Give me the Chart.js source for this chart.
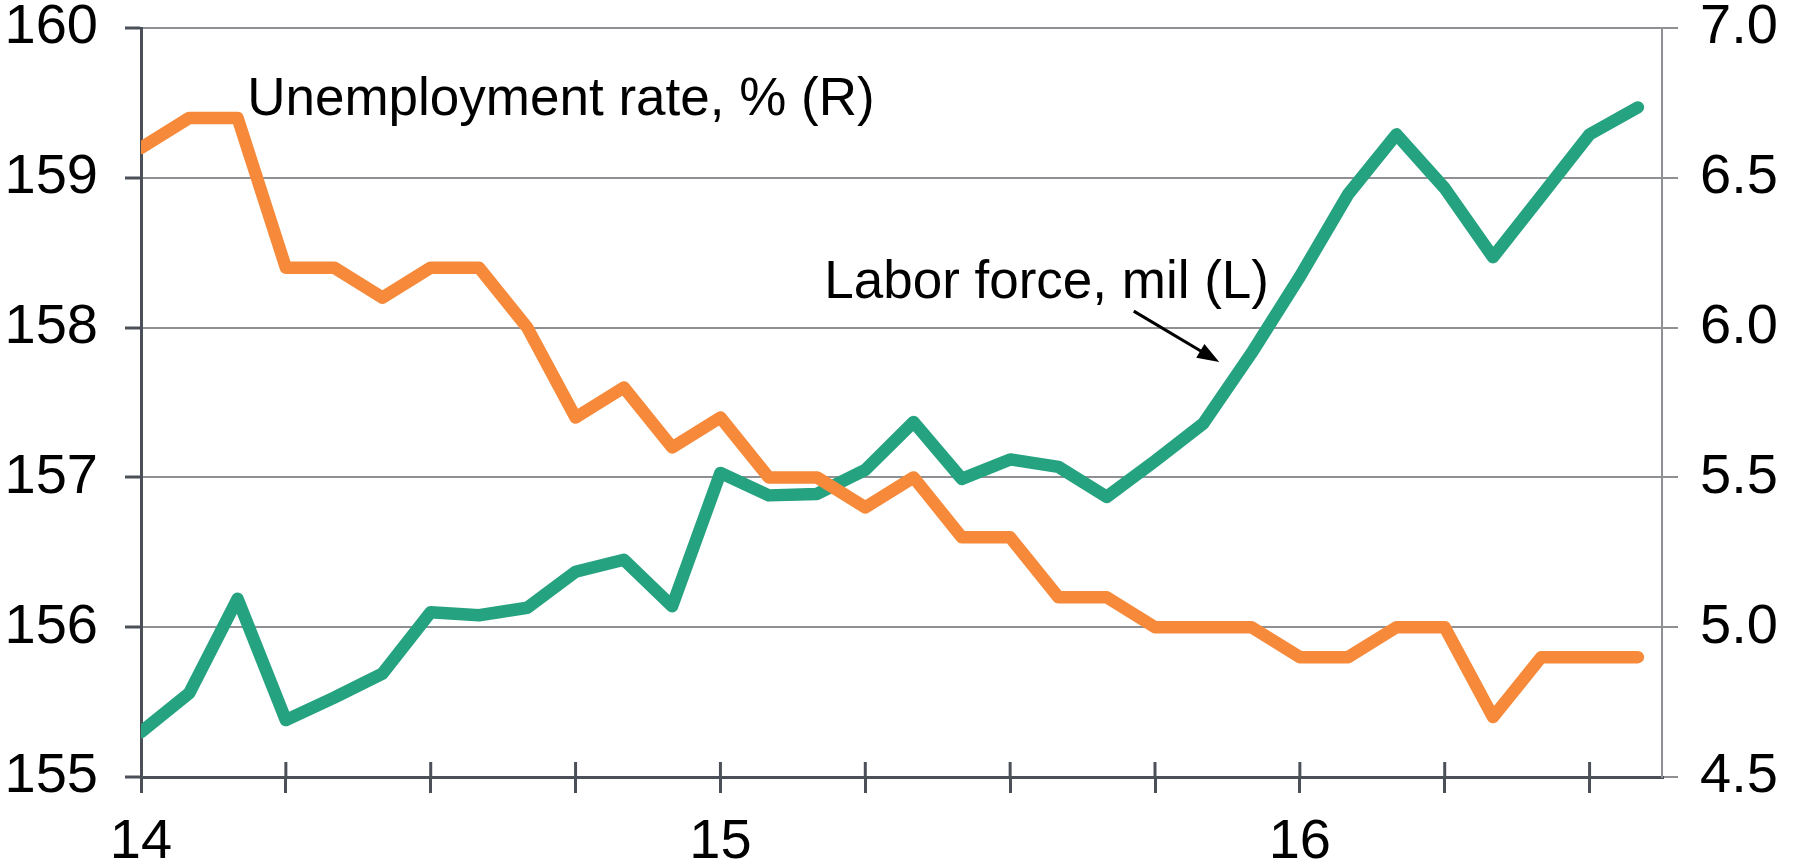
<!DOCTYPE html>
<html>
<head>
<meta charset="utf-8">
<script src="https://cdn.jsdelivr.net/npm/chart.js@4"></script>
<style>
  html, body { margin: 0; padding: 0; background: #fff; }
  #wrap { width: 1801px; height: 865px; }
</style>
</head>
<body>
<div id="wrap"><canvas id="myChart" width="1801" height="865"></canvas></div>
<script>
// monthly, Jan 2014 .. Aug 2016
const months = ['Jan 14','Feb 14','Mar 14','Apr 14','May 14','Jun 14','Jul 14','Aug 14','Sep 14','Oct 14','Nov 14','Dec 14',
                'Jan 15','Feb 15','Mar 15','Apr 15','May 15','Jun 15','Jul 15','Aug 15','Sep 15','Oct 15','Nov 15','Dec 15',
                'Jan 16','Feb 16','Mar 16','Apr 16','May 16','Jun 16','Jul 16','Aug 16'];

// unemployment rate, % (right axis)
const unemployment = [6.6, 6.7, 6.7, 6.2, 6.2, 6.1, 6.2, 6.2, 6.0, 5.7, 5.8, 5.6,
                      5.7, 5.5, 5.5, 5.4, 5.5, 5.3, 5.3, 5.1, 5.1, 5.0, 5.0, 5.0,
                      4.9, 4.9, 5.0, 5.0, 4.7, 4.9, 4.9, 4.9];

// labor force, millions (left axis)
const laborForce = [155.30, 155.56, 156.19, 155.38, 155.53, 155.69, 156.10, 156.08, 156.13, 156.37, 156.45, 156.14,
                    157.03, 156.88, 156.89, 157.05, 157.37, 156.99, 157.12, 157.07, 156.87, 157.11, 157.36, 157.83,
                    158.34, 158.89, 159.29, 158.93, 158.47, 158.88, 159.29, 159.47];

// x tick labels: one per year, at every 12th month
const yearLabels = ['14', '15', '16'];

const FONT = "'Liberation Sans', Arial, sans-serif";
const AXIS_DARK = '#4b5058';
const GRID_GRAY = '#8e9094';

// text annotations, anchored on axis values (x = month index, y = left axis)
const notes = [
    { text: 'Unemployment rate, % (R)', x: 2.2, y: 159.42 },
    { text: 'Labor force, mil (L)', x: 14.15, y: 158.2 }
];
const arrow = { x1: 20.56, y1: 158.11, x2: 22.33, y2: 157.77 };

const annotations = {
    id: 'annotations',
    beforeDatasetsDraw(chart) {
        // short x ticks reaching up into the plot area
        const ctx = chart.ctx;
        const xs = chart.scales.x;
        const bottom = chart.chartArea.bottom;
        ctx.save();
        ctx.strokeStyle = AXIS_DARK;
        ctx.lineWidth = 3;
        xs.ticks.forEach(t => {
            if (t.value === 0) return;
            const px = xs.getPixelForValue(t.value);
            ctx.beginPath();
            ctx.moveTo(px, bottom - 15);
            ctx.lineTo(px, bottom);
            ctx.stroke();
        });
        ctx.restore();
    },
    afterDatasetsDraw(chart) {
        const ctx = chart.ctx;
        const xs = chart.scales.x;
        const ys = chart.scales.y;
        ctx.save();
        ctx.fillStyle = '#000';
        ctx.font = '53px ' + FONT;
        ctx.textBaseline = 'alphabetic';
        ctx.textAlign = 'left';
        notes.forEach(n => {
            ctx.fillText(n.text, xs.getPixelForValue(n.x), ys.getPixelForValue(n.y));
        });

        const ax1 = xs.getPixelForValue(arrow.x1), ay1 = ys.getPixelForValue(arrow.y1);
        const ax2 = xs.getPixelForValue(arrow.x2), ay2 = ys.getPixelForValue(arrow.y2);
        const ang = Math.atan2(ay2 - ay1, ax2 - ax1);
        const head = 22, half = 8;
        ctx.strokeStyle = '#000';
        ctx.lineWidth = 3;
        ctx.beginPath();
        ctx.moveTo(ax1, ay1);
        ctx.lineTo(ax2 - head * 0.8 * Math.cos(ang), ay2 - head * 0.8 * Math.sin(ang));
        ctx.stroke();
        ctx.beginPath();
        ctx.moveTo(ax2, ay2);
        ctx.lineTo(ax2 - head * Math.cos(ang) + half * Math.sin(ang), ay2 - head * Math.sin(ang) - half * Math.cos(ang));
        ctx.lineTo(ax2 - head * Math.cos(ang) - half * Math.sin(ang), ay2 - head * Math.sin(ang) + half * Math.cos(ang));
        ctx.closePath();
        ctx.fill();
        ctx.restore();
    }
};

// fixed axis width, and no extra top/bottom room for the tick labels
function fixWidth(w) {
    return s => {
        s.width = w;
        s.paddingTop = 0;
        s.paddingBottom = 0;
    };
}

const ctx = document.getElementById('myChart').getContext('2d');

new Chart(ctx, {
    type: 'line',
    data: {
        labels: months,
        datasets: [
            {
                label: 'Unemployment rate, % (R)',
                data: unemployment.map((v, i) => ({ x: i, y: v })),
                yAxisID: 'y2',
                borderColor: '#f68a3a',
                borderWidth: 12.5,
                borderJoinStyle: 'round',
                borderCapStyle: 'round',
                pointRadius: 0,
                tension: 0,
                fill: false,
                order: 1
            },
            {
                label: 'Labor force, mil (L)',
                data: laborForce.map((v, i) => ({ x: i, y: v })),
                yAxisID: 'y',
                borderColor: '#25a27f',
                borderWidth: 12.5,
                borderJoinStyle: 'round',
                borderCapStyle: 'round',
                pointRadius: 0,
                tension: 0,
                fill: false,
                order: 2
            }
        ]
    },
    options: {
        responsive: false,
        animation: false,
        layout: { padding: { top: 28, left: 0, right: 0, bottom: 0 } },
        plugins: {
            legend: { display: false },
            tooltip: { enabled: false }
        },
        scales: {
            x: {
                type: 'linear',
                min: 0,
                max: 31.5,
                afterFit: s => { s.height = 88; },
                ticks: {
                    stepSize: 3,
                    includeBounds: false,
                    autoSkip: false,
                    maxRotation: 0,
                    padding: 22,
                    color: '#000',
                    font: { family: FONT, size: 56, lineHeight: 1 },
                    callback: v => (v % 12 === 0 ? yearLabels[v / 12] : '')
                },
                grid: {
                    drawOnChartArea: false,
                    tickLength: 16,
                    tickColor: AXIS_DARK,
                    lineWidth: 3
                },
                border: { color: AXIS_DARK, width: 3 }
            },
            y: {
                position: 'left',
                min: 155,
                max: 160,
                afterFit: fixWidth(141),
                ticks: {
                    stepSize: 1,
                    padding: 27,
                    color: '#000',
                    font: { family: FONT, size: 56, lineHeight: 1 }
                },
                grid: {
                    color: GRID_GRAY,
                    lineWidth: 2,
                    tickLength: 16,
                    tickColor: AXIS_DARK,
                    tickWidth: 3
                },
                border: { color: AXIS_DARK, width: 3 }
            },
            y2: {
                position: 'right',
                min: 4.5,
                max: 7.0,
                afterFit: fixWidth(139),
                ticks: {
                    stepSize: 0.5,
                    padding: 22,
                    color: '#000',
                    font: { family: FONT, size: 56, lineHeight: 1 },
                    callback: v => v.toFixed(1)
                },
                grid: {
                    drawOnChartArea: false,
                    tickLength: 16,
                    tickColor: GRID_GRAY,
                    lineWidth: 2
                },
                border: { color: GRID_GRAY, width: 2 }
            }
        }
    },
    plugins: [annotations]
});
</script>
</body>
</html>
